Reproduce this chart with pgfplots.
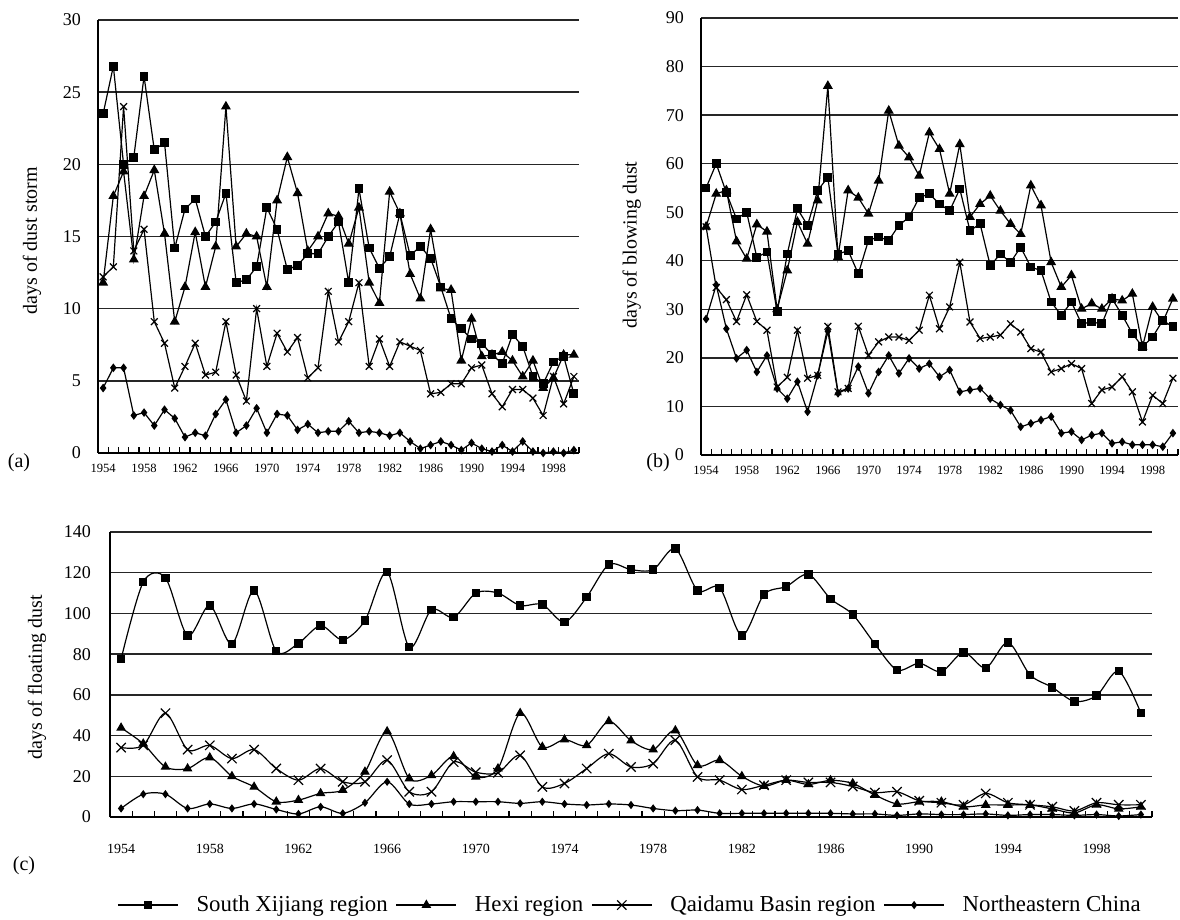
\documentclass[border=0pt]{standalone}
\usepackage{fontspec}
\setmainfont{Liberation Serif}
\usepackage{pgfplots}
\pgfplotsset{compat=1.18}
\usepackage{pgfplotstable}

\pgfplotstableread{
yr SX HX QD NE
1954 23.5 11.8 12.2 4.5
1955 26.8 17.8 12.9 5.9
1956 20.0 19.5 24.0 5.9
1957 20.5 13.4 14.0 2.6
1958 26.1 17.8 15.5 2.8
1959 21.0 19.6 9.1 1.9
1960 21.5 15.2 7.6 3.0
1961 14.2 9.1 4.5 2.4
1962 16.9 11.5 6.0 1.1
1963 17.6 15.3 7.6 1.4
1964 15.0 11.5 5.4 1.2
1965 16.0 14.3 5.6 2.7
1966 18.0 24.0 9.1 3.7
1967 11.8 14.3 5.4 1.4
1968 12.0 15.2 3.6 1.9
1969 12.9 15.0 10.0 3.1
1970 17.0 11.5 6.0 1.4
1971 15.5 17.5 8.3 2.7
1972 12.7 20.5 7.0 2.6
1973 13.0 18.0 8.0 1.6
1974 13.8 14.0 5.2 2.0
1975 13.8 15.0 5.9 1.4
1976 15.0 16.6 11.2 1.5
1977 16.0 16.4 7.7 1.5
1978 11.8 14.5 9.1 2.2
1979 18.3 17.0 11.8 1.4
1980 14.2 11.8 6.0 1.5
1981 12.8 10.4 7.9 1.4
1982 13.6 18.1 6.0 1.2
1983 16.6 16.6 7.7 1.4
1984 13.7 12.4 7.4 0.8
1985 14.3 10.7 7.1 0.3
1986 13.5 15.5 4.1 0.55
1987 11.5 11.4 4.2 0.8
1988 9.3 11.3 4.8 0.55
1989 8.6 6.4 4.8 0.2
1990 7.9 9.3 5.9 0.7
1991 7.6 6.7 6.1 0.3
1992 6.8 6.8 4.1 0.1
1993 6.2 7.0 3.2 0.55
1994 8.2 6.4 4.4 0.1
1995 7.4 5.3 4.4 0.8
1996 5.3 6.4 3.8 0.1
1997 4.8 4.5 2.6 0.0
1998 6.3 5.2 5.3 0.1
1999 6.7 6.8 3.4 0.0
2000 4.1 6.8 5.3 0.2
}\dataA

\pgfplotstableread{
yr SX HX QD NE
1954 55 47 47 28
1955 60 53.8 34.5 35
1956 54 54.5 32 26
1957 48.6 44 27.5 19.9
1958 50 40.4 33 21.6
1959 40.7 47.5 27.5 17.1
1960 41.8 46 25.7 20.5
1961 29.5 30 14 13.7
1962 41.4 38 16 11.6
1963 50.7 48 25.7 15.1
1964 47.3 43.5 15.8 8.9
1965 54.5 52.4 16.4 16.4
1966 57.2 76 26.5 25.5
1967 41.4 40.8 13 12.7
1968 42.1 54.5 13.7 13.7
1969 37.3 53 26.5 18.2
1970 44.2 49.7 20.5 12.7
1971 44.9 56.5 23.3 17.1
1972 44.2 70.9 24.3 20.5
1973 47.3 63.7 24.3 16.8
1974 49 61.3 23.6 19.9
1975 53 57.5 25.7 17.8
1976 53.8 66.4 32.9 18.8
1977 51.7 63 26 16.1
1978 50.3 53.8 30.5 17.5
1979 54.8 64 39.7 13
1980 46.2 49 27.4 13.4
1981 47.6 51.7 24 13.7
1982 39 53.4 24.3 11.6
1983 41.4 50.3 24.7 10.3
1984 39.7 47.6 27 9.2
1985 42.8 45.5 25.3 5.8
1986 38.7 55.5 21.9 6.5
1987 38 51.4 21.2 7.2
1988 31.5 39.7 17.1 7.9
1989 28.8 34.6 17.8 4.5
1990 31.5 37 18.8 4.8
1991 27 30.1 17.8 3.1
1992 27.4 31.2 10.6 4.1
1993 27 30.1 13.4 4.5
1994 32.2 32.2 14 2.4
1995 28.8 31.8 16.1 2.7
1996 25 33.2 13 2.1
1997 22.3 22.3 6.8 2.1
1998 24.3 30.5 12.3 2.1
1999 27.7 27.4 10.6 1.7
2000 26.4 32.2 15.8 4.5
}\dataB

\pgfplotstableread{
yr SX HX QD NE
1954 77.6 43.8 34.1 4.2
1955 115.4 36 35.2 11.2
1956 117.5 24.6 51 11.2
1957 89.1 23.8 33.1 4.2
1958 103.9 29.2 35.2 6.4
1959 85 20 28.7 4.2
1960 111.3 14.8 33.1 6.4
1961 81.4 7.5 23.8 3.7
1962 85.3 8.3 18.1 1.5
1963 94 11.6 23.8 5
1964 87 13.2 17.3 1.8
1965 96.5 22.2 17.3 7
1966 120.3 42 27.9 17.3
1967 83.4 18.9 12.4 6.4
1968 101.8 20.5 12.4 6.4
1969 98.1 29.8 27 7.5
1970 110 19.7 22 7.5
1971 110 23.8 21.7 7.5
1972 103.9 51 30.3 6.7
1973 104.4 34.4 14.8 7.5
1974 95.7 38 16.5 6.4
1975 108 35.2 23.8 5.9
1976 124 47 31.1 6.4
1977 121.5 37.5 24.6 5.9
1978 121.5 33.1 26.2 4.2
1979 131.8 42.5 37.7 3.1
1980 111.3 25.4 19.7 3.4
1981 112.6 27.9 18.1 1.8
1982 89.1 20 13.5 1.8
1983 109.3 15.2 15.6 1.8
1984 113.2 18.1 18.1 1.8
1985 119.2 16 17 1.8
1986 107.2 18 17 1.8
1987 99.5 16.5 15 1.5
1988 85 10.8 12 1.5
1989 72.2 6.4 12.4 0.8
1990 75.5 7.5 8 1.5
1991 71.4 7.5 7 1.2
1992 80.9 5 6 1.2
1993 73.2 5.9 11.6 1.5
1994 85.8 5.9 7 0.8
1995 69.8 5.9 6 1.2
1996 63.7 4 5 1.2
1997 56.8 2 3 0.8
1998 59.6 6 7 1.2
1999 71.6 4 6 0.5
2000 51 5 6 1.2
}\dataC

\pgfplotsset{
  panel/.style={
    scale only axis,
    xmin=1953.5, xmax=2000.5,
    ymin=0,
    clip=false,
    axis x line*=bottom, axis y line*=left,
    axis line style={line width=0.9bp, -},
    ymajorgrids,
    grid style={black!85, line width=0.7bp},
    xtick={1954,1958,...,1998},
    xticklabels={1954,1958,1962,1966,1970,1974,1978,1982,1986,1990,1994,1998},
    minor xtick={1953.5,1954.5,...,2000.5},
    major x tick style={draw=none},
    minor x tick style={black, line width=0.6bp},
    minor tick length=3bp,
    tick align=inside,
    major y tick style={draw=none},
    /pgf/number format/assume math mode=true,
    yticklabel style={font=\fontsize{9bp}{10bp}\selectfont, xshift=-5bp},
    every axis plot/.append style={black, line width=0.6bp},
  },
  sx/.style={mark=square*, mark size=1.9bp, mark options={solid, fill=black}},
  hx/.style={mark=triangle*, mark size=2.3bp, mark options={solid, fill=black}},
  qd/.style={mark=x, mark size=2.4bp, mark options={solid}},
  ne/.style={mark=diamond*, mark size=1.7bp, mark options={solid, fill=black}},
}

\begin{document}
\begin{tikzpicture}
\useasboundingbox (0,0) rectangle (590bp,460bp);

% (a)
\begin{axis}[panel,
  at={(49bp,233.5bp)}, anchor=south west,
  width=240.5bp, height=216.5bp,
  ymax=30, ytick={0,5,...,30},
  xticklabel style={font=\fontsize{6.3bp}{7bp}\selectfont, yshift=-2bp},
  ylabel={days of dust storm},
  ylabel style={at={(axis description cs:-0.137,0.49)}, anchor=center, font=\fontsize{10bp}{12bp}\selectfont},
]
\addplot[sx] table[x=yr, y=SX] {\dataA};
\addplot[hx] table[x=yr, y=HX] {\dataA};
\addplot[qd] table[x=yr, y=QD] {\dataA};
\addplot[ne] table[x=yr, y=NE] {\dataA};
\end{axis}

% (b)
\begin{axis}[panel,
  at={(350.5bp,232.5bp)}, anchor=south west,
  width=238.5bp, height=218.5bp,
  ymax=90, ytick={0,10,...,90},
  xticklabel style={font=\fontsize{6.3bp}{7bp}\selectfont, yshift=-2bp},
  ylabel={days of blowing dust},
  ylabel style={at={(axis description cs:-0.145,0.48)}, anchor=center, font=\fontsize{10bp}{12bp}\selectfont},
]
\addplot[sx] table[x=yr, y=SX] {\dataB};
\addplot[hx] table[x=yr, y=HX] {\dataB};
\addplot[qd] table[x=yr, y=QD] {\dataB};
\addplot[ne] table[x=yr, y=NE] {\dataB};
\end{axis}

% (c)
\begin{axis}[panel,
  at={(55bp,51.5bp)}, anchor=south west,
  width=521bp, height=142.5bp,
  ymax=140, ytick={0,20,...,140},
  xticklabel style={font=\fontsize{7bp}{8bp}\selectfont, yshift=-10bp},
  yticklabel style={xshift=-1bp},
  ylabel={days of floating dust},
  ylabel style={at={(axis description cs:-0.070,0.49)}, anchor=center, font=\fontsize{10bp}{12bp}\selectfont},
  legend columns=4,
  legend style={draw=none, at={(0.5,-0.309)}, anchor=center,
    font=\fontsize{11.4bp}{13bp}\selectfont,
    /tikz/every odd column/.append style={column sep=7bp},
    /tikz/every even column/.append style={column sep=2bp}},
  legend image code/.code={\draw[mark repeat=2,mark phase=2,#1] plot coordinates {(0bp,0bp) (15bp,0bp) (30bp,0bp)};},
]
\addplot[sx, smooth, mark size=1.8bp] table[x=yr, y=SX] {\dataC};
\addplot[hx, smooth, mark size=2.2bp] table[x=yr, y=HX] {\dataC};
\addplot[qd, smooth, mark size=3.3bp] table[x=yr, y=QD] {\dataC};
\addplot[ne, smooth, mark size=1.6bp] table[x=yr, y=NE] {\dataC};
\legend{South Xijiang region, Hexi region, Qaidamu Basin region, Northeastern China}
\end{axis}

\node[font=\fontsize{10bp}{12bp}\selectfont] at (9.5bp,228.5bp) {(a)};
\node[font=\fontsize{10bp}{12bp}\selectfont] at (329bp,228.5bp) {(b)};
\node[font=\fontsize{10bp}{12bp}\selectfont] at (12bp,27bp) {(c)};
\end{tikzpicture}
\end{document}
